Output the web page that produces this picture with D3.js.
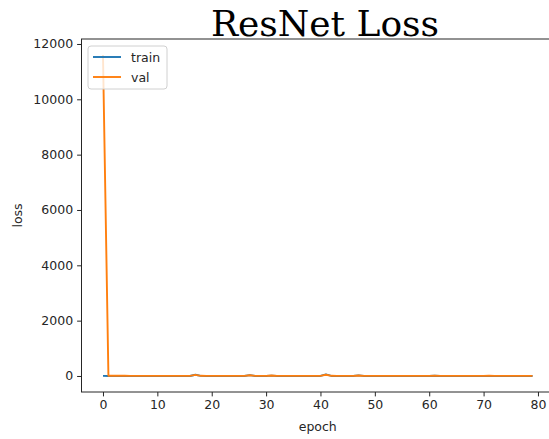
<!DOCTYPE html>
<html>
<head>
<meta charset="utf-8">
<script src="https://cdn.jsdelivr.net/npm/d3@7"></script>
<style>
  body { margin: 0; background: #fff; }
  svg text { font-family: "DejaVu Sans", sans-serif; fill: #262626; }
</style>
</head>
<body>
<svg id="chart" width="549" height="439"></svg>
<script>
// loss per epoch
const epochs = d3.range(0, 80);
const trainLoss = [
  3.2, 1.8, 1.5, 1.4, 1.3, 1.2, 1.2, 1.1, 1.1, 1.0,
  1.0, 1.0, 0.9, 0.9, 0.9, 0.9, 0.9, 45, 2.0, 1.2,
  1.0, 0.9, 0.9, 0.9, 0.9, 0.9, 0.9, 30, 1.5, 1.0,
  0.9, 12, 1.2, 0.9, 0.9, 0.9, 0.9, 0.9, 0.9, 0.9,
  0.9, 55, 1.6, 1.0, 0.9, 0.9, 0.9, 20, 1.1, 0.9,
  0.9, 0.9, 0.9, 0.9, 0.9, 0.9, 0.9, 0.9, 0.9, 0.9,
  0.9, 8, 1.0, 0.9, 0.9, 0.9, 0.9, 0.9, 0.9, 0.9,
  0.9, 0.9, 0.9, 0.9, 0.9, 0.9, 0.9, 0.9, 0.9, 0.9
];
const valLoss = [
  11600, 9, 7, 6, 6, 5, 5, 5, 5, 5,
  5, 5, 5, 5, 5, 5, 5, 38, 6, 5,
  5, 5, 5, 5, 5, 5, 5, 24, 5, 5,
  5, 16, 5, 5, 5, 5, 5, 5, 5, 5,
  5, 45, 6, 5, 5, 5, 5, 16, 5, 5,
  5, 5, 5, 5, 5, 5, 5, 5, 5, 5,
  5, 12, 5, 5, 5, 5, 5, 5, 5, 5,
  5, 8, 5, 5, 5, 5, 5, 5, 5, 5
];
const xTicks = [0, 10, 20, 30, 40, 50, 60, 70, 80];
const yTicks = [0, 2000, 4000, 6000, 8000, 10000, 12000];
const seriesNames = ["train", "val"];
const seriesColors = ["#1f77b4", "#ff7f0e"];

const svg = d3.select("#chart");
const margin = {top: 39, left: 81.5, bottom: 392, right: 554};

// matplotlib style 5% padding around the data
const xmin = 0, xmax = 79;
const xpad = (xmax - xmin) * 0.05;
const allY = trainLoss.concat(valLoss);
const ymin = d3.min(allY), ymax = d3.max(allY);
const ypad = (ymax - ymin) * 0.05;

const x = d3.scaleLinear().domain([xmin - xpad, xmax + xpad]).range([margin.left, margin.right]);
const y = d3.scaleLinear().domain([ymin - ypad, ymax + ypad]).range([margin.bottom, margin.top]);

// lines
const line = d3.line().x((d, i) => x(epochs[i])).y(d => y(d));
[trainLoss, valLoss].forEach((s, k) => {
  svg.append("path")
    .datum(s)
    .attr("d", line)
    .attr("fill", "none")
    .attr("stroke", seriesColors[k])
    .attr("stroke-width", 1.9)
    .attr("stroke-linejoin", "round");
});

// axes
const xAxis = svg.append("g")
  .attr("transform", `translate(0,${margin.bottom})`)
  .call(d3.axisBottom(x).tickValues(xTicks).tickSizeOuter(0).tickSize(4.4).tickPadding(4));
const yAxis = svg.append("g")
  .attr("transform", `translate(${margin.left},0)`)
  .call(d3.axisLeft(y).tickValues(yTicks).tickFormat(d3.format("d")).tickSizeOuter(0).tickSize(4.4).tickPadding(4));

[xAxis, yAxis].forEach(a => {
  a.select(".domain").remove();
  a.selectAll("line").attr("stroke", "#262626").attr("stroke-width", 1);
  a.selectAll("text").attr("font-size", 12.5).attr("fill", "#262626")
    .style("font-family", "DejaVu Sans");
});

// spines
svg.append("rect")
  .attr("x", margin.left).attr("y", margin.top)
  .attr("width", margin.right - margin.left)
  .attr("height", margin.bottom - margin.top)
  .attr("fill", "none")
  .attr("stroke", "#262626")
  .attr("stroke-width", 1);

// axis labels
svg.append("text")
  .attr("x", (margin.left + margin.right) / 2)
  .attr("y", 431)
  .attr("text-anchor", "middle")
  .attr("font-size", 12.5)
  .text("epoch");
svg.append("text")
  .attr("transform", `translate(22,${(margin.top + margin.bottom) / 2}) rotate(-90)`)
  .attr("text-anchor", "middle")
  .attr("font-size", 12.5)
  .text("loss");

// title
svg.append("text")
  .attr("x", 325)
  .attr("y", 36)
  .attr("text-anchor", "middle")
  .style("font-family", "DejaVu Serif")
  .style("fill", "#000")
  .attr("font-size", 36)
  .text("ResNet Loss");

// legend
const lg = svg.append("g").attr("transform", "translate(88,46)");
lg.append("rect")
  .attr("width", 79).attr("height", 43)
  .attr("rx", 3)
  .attr("fill", "#fff").attr("fill-opacity", 0.8)
  .attr("stroke", "#d0d0d0");
seriesNames.forEach((name, i) => {
  lg.append("line")
    .attr("x1", 5).attr("x2", 33)
    .attr("y1", 11 + i * 20).attr("y2", 11 + i * 20)
    .attr("stroke", seriesColors[i]).attr("stroke-width", 1.9);
  lg.append("text")
    .attr("x", 43).attr("y", 15.5 + i * 20)
    .attr("font-size", 12.5)
    .text(name);
});
</script>
</body>
</html>
